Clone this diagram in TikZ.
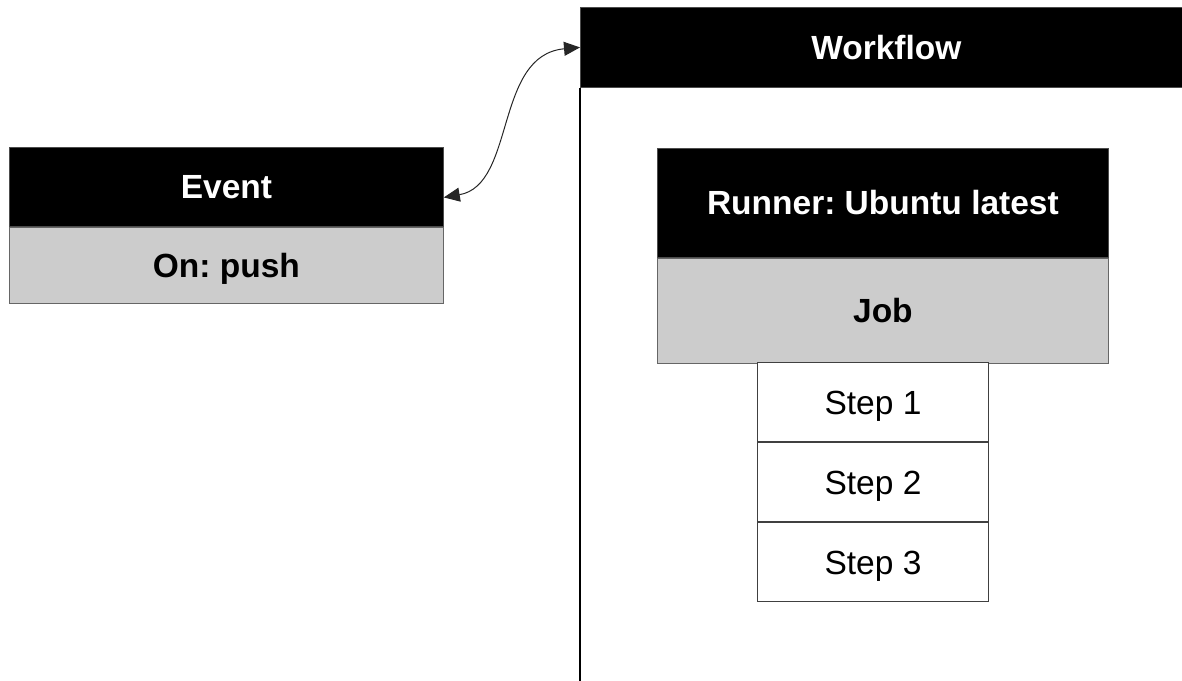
\documentclass[tikz,border=0pt]{standalone}
\usepackage{fontspec}
\setmainfont{Liberation Sans}
\usetikzlibrary{arrows.meta}
\frenchspacing
\begin{document}
\begin{tikzpicture}[x=1pt,y=-1pt,
  txt/.style={font=\fontsize{33.5}{40}\selectfont, text height=24pt, text depth=0pt},
  hdr/.style={txt, fill=black, draw=black!70, line width=0.8pt, text=white, font=\fontsize{33.5}{40}\selectfont\bfseries, inner sep=0pt, anchor=north west},
  sub/.style={txt, fill=black!20, draw=black!60, line width=0.8pt, text=black, font=\fontsize{33.5}{40}\selectfont\bfseries, inner sep=0pt, anchor=north west},
  stepbox/.style={txt, fill=white, draw=black!75, line width=1pt, inner sep=0pt, anchor=north west, minimum width=231pt, minimum height=79pt},
  link/.style={line width=1pt, black!85, {Triangle[length=16pt,width=14pt]}-{Triangle[length=16pt,width=14pt]}}]
\useasboundingbox (0,0) rectangle (1182,680);
\begin{scope}
\clip (0,0) rectangle (1182,680);
% Workflow frame: header bar and left rule
\node[hdr, minimum width=612pt, minimum height=80pt] (wf) at (580,7) {Workflow};
\draw[line width=2.5pt] (wf.south west) -- (580,690);
\end{scope}
% Event block
\node[hdr, minimum width=434pt, minimum height=79pt] (ev) at (9,147) {Event};
\node[sub, minimum width=434pt, minimum height=76pt] (on) at (ev.south west) {On: push};
% Runner and job
\node[hdr, minimum width=451pt, minimum height=109pt] (run) at (657,148) {Runner: Ubuntu latest};
\node[sub, minimum width=451pt, minimum height=105pt] (job) at (run.south west) {Job};
% Steps
\node[stepbox] (s1) at (757,362) {Step 1};
\node[stepbox] (s2) at (s1.south west) {Step 2};
\node[stepbox] (s3) at (s2.south west) {Step 3};
% Trigger link between event and workflow
\draw[link] ([yshift=-10.5pt]ev.east) .. controls (516,185) and (494,55) .. (wf.west);
\end{tikzpicture}
\end{document}
